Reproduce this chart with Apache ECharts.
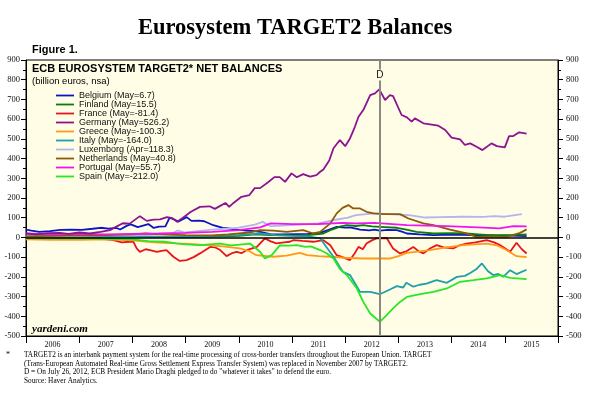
<!DOCTYPE html>
<html>
<head>
<meta charset="utf-8">
<script src="https://cdn.jsdelivr.net/npm/echarts/dist/echarts.min.js"></script>
<style>
  html, body { margin: 0; padding: 0; background: #fff; }
  #chart { width: 600px; height: 402px; }
</style>
</head>
<body>
<div id="chart"></div>
<script>
// year labels (centred between year ticks)
var years = ['2006', '2007', '2008', '2009', '2010', '2011', '2012', '2013', '2014', '2015'];

// series: [decimal year, billion euros]
var belgium = [[2006.0,40],[2006.1,35],[2006.25,28],[2006.45,32],[2006.65,38],[2006.85,40],[2007.05,38],[2007.25,44],[2007.4,49],[2007.55,45],[2007.7,48],[2007.77,40],[2007.9,60],[2007.97,66],[2008.1,52],[2008.2,60],[2008.3,68],[2008.4,48],[2008.5,55],[2008.62,56],[2008.7,100],[2008.78,92],[2008.86,80],[2008.95,92],[2009.02,103],[2009.11,84],[2009.25,85],[2009.35,82],[2009.52,62],[2009.7,48],[2009.85,44],[2009.96,40],[2010.15,34],[2010.3,32],[2010.4,28],[2010.59,17],[2010.8,15],[2011.09,17],[2011.3,18],[2011.53,23],[2011.7,40],[2011.84,54],[2012.0,50],[2012.09,51],[2012.2,45],[2012.28,40],[2012.45,36],[2012.55,40],[2012.65,34],[2012.8,38],[2012.97,37],[2013.08,28],[2013.16,20],[2013.4,15],[2013.66,12],[2014.0,14],[2014.41,12],[2014.8,10],[2015.1,9],[2015.41,6.7]];
var finland = [[2006.0,2],[2006.5,3],[2007.0,2],[2007.5,4],[2008.0,5],[2008.5,3],[2009.0,2],[2009.5,4],[2010.0,8],[2010.3,15],[2010.6,12],[2011.0,10],[2011.3,12],[2011.59,20],[2011.75,40],[2011.9,55],[2012.03,62],[2012.2,58],[2012.34,62],[2012.5,56],[2012.65,54],[2012.97,49],[2013.15,40],[2013.34,28],[2013.66,20],[2014.0,22],[2014.28,20],[2014.5,16],[2014.72,12],[2015.16,12],[2015.41,15.5]];
var france = [[2006.0,-3],[2006.5,-5],[2007.0,-4],[2007.4,-6],[2007.64,-14],[2007.8,-25],[2007.95,-22],[2008.02,-22],[2008.08,-56],[2008.14,-73],[2008.25,-60],[2008.33,-64],[2008.46,-73],[2008.55,-68],[2008.64,-64],[2008.77,-98],[2008.89,-119],[2009.02,-115],[2009.15,-100],[2009.27,-81],[2009.46,-48],[2009.55,-50],[2009.65,-64],[2009.77,-95],[2009.87,-80],[2009.96,-73],[2010.05,-80],[2010.15,-64],[2010.25,-55],[2010.34,-48],[2010.49,-5],[2010.6,-20],[2010.71,-30],[2010.85,-25],[2010.96,-22],[2011.02,-14],[2011.2,-18],[2011.4,-22],[2011.59,-14],[2011.72,-40],[2011.84,-90],[2011.95,-100],[2012.09,-115],[2012.18,-80],[2012.25,-48],[2012.33,-60],[2012.4,-31],[2012.5,-15],[2012.59,-5],[2012.78,-3],[2012.9,-56],[2013.03,-81],[2013.15,-70],[2013.28,-48],[2013.38,-70],[2013.47,-81],[2013.6,-55],[2013.72,-39],[2013.85,-50],[2014.03,-56],[2014.15,-40],[2014.28,-31],[2014.45,-25],[2014.66,-14],[2014.8,-25],[2014.91,-39],[2015.03,-60],[2015.1,-73],[2015.22,-27],[2015.32,-60],[2015.41,-81.4]];
var germany = [[2006.0,20],[2006.2,15],[2006.4,22],[2006.64,23],[2006.8,18],[2007.0,25],[2007.2,20],[2007.4,28],[2007.58,37],[2007.7,55],[2007.82,72],[2007.95,70],[2008.14,108],[2008.27,84],[2008.4,90],[2008.52,92],[2008.65,103],[2008.75,98],[2008.84,79],[2008.95,100],[2009.1,130],[2009.27,155],[2009.45,158],[2009.55,145],[2009.65,160],[2009.75,175],[2009.82,155],[2009.9,175],[2010.05,206],[2010.2,215],[2010.3,250],[2010.4,250],[2010.55,280],[2010.67,306],[2010.77,306],[2010.87,282],[2010.99,325],[2011.09,305],[2011.21,321],[2011.34,308],[2011.46,316],[2011.53,333],[2011.59,345],[2011.7,390],[2011.78,452],[2011.9,494],[2012.0,463],[2012.09,502],[2012.18,560],[2012.25,612],[2012.34,646],[2012.47,722],[2012.56,731],[2012.64,751],[2012.75,697],[2012.84,722],[2012.9,717],[2013.06,621],[2013.16,609],[2013.25,587],[2013.31,604],[2013.47,579],[2013.75,567],[2013.88,545],[2014.0,506],[2014.16,497],[2014.25,469],[2014.35,477],[2014.47,460],[2014.58,443],[2014.75,477],[2014.85,463],[2015.0,457],[2015.08,514],[2015.16,514],[2015.27,533],[2015.41,526.2]];
var greece = [[2006.0,-10],[2006.5,-12],[2007.0,-12],[2007.5,-10],[2008.0,-15],[2008.4,-25],[2008.8,-30],[2009.0,-32],[2009.4,-39],[2009.7,-45],[2010.02,-56],[2010.2,-70],[2010.33,-90],[2010.65,-98],[2010.9,-92],[2011.15,-78],[2011.28,-90],[2011.5,-95],[2011.71,-98],[2012.0,-103],[2012.33,-107],[2012.84,-107],[2013.0,-95],[2013.16,-78],[2013.59,-64],[2013.9,-50],[2014.22,-39],[2014.66,-31],[2014.85,-40],[2015.03,-64],[2015.22,-95],[2015.41,-100.3]];
var italy = [[2006.0,5],[2006.5,8],[2007.0,10],[2007.5,8],[2008.0,5],[2008.5,3],[2009.0,5],[2009.5,8],[2010.0,12],[2010.4,20],[2010.7,12],[2011.0,8],[2011.3,5],[2011.53,-5],[2011.65,-50],[2011.78,-98],[2011.9,-150],[2011.96,-175],[2012.09,-191],[2012.2,-240],[2012.28,-276],[2012.47,-276],[2012.65,-288],[2012.84,-264],[2012.97,-247],[2013.09,-254],[2013.15,-230],[2013.28,-250],[2013.4,-240],[2013.53,-234],[2013.62,-225],[2013.72,-217],[2013.91,-230],[2014.1,-200],[2014.25,-195],[2014.35,-180],[2014.47,-160],[2014.57,-132],[2014.68,-170],[2014.78,-191],[2014.88,-185],[2014.97,-200],[2015.1,-166],[2015.22,-186],[2015.41,-164]];
var luxembourg = [[2006.0,5],[2006.5,6],[2007.0,8],[2007.5,10],[2008.0,10],[2008.5,15],[2008.75,20],[2008.85,35],[2009.0,25],[2009.5,40],[2009.8,45],[2010.0,50],[2010.3,65],[2010.45,79],[2010.6,57],[2010.8,60],[2011.0,62],[2011.5,71],[2011.85,91],[2012.05,100],[2012.2,113],[2012.55,122],[2012.8,118],[2013.2,113],[2013.5,101],[2013.8,103],[2014.2,105],[2014.6,104],[2014.8,108],[2015.0,105],[2015.32,118.3]];
var netherlands = [[2006.0,5],[2006.5,8],[2007.0,10],[2007.5,12],[2008.0,15],[2008.25,20],[2008.5,15],[2009.0,12],[2009.5,10],[2009.8,15],[2010.0,20],[2010.2,25],[2010.4,37],[2010.65,34],[2010.9,28],[2011.21,37],[2011.4,20],[2011.53,28],[2011.72,71],[2011.84,122],[2011.95,150],[2012.06,164],[2012.15,147],[2012.18,139],[2012.28,147],[2012.4,130],[2012.53,122],[2012.72,118],[2013.03,118],[2013.19,96],[2013.47,71],[2013.66,62],[2013.97,40],[2014.28,20],[2014.47,3],[2014.7,5],[2015.03,3],[2015.29,23],[2015.41,40.8]];
var portugal = [[2006.0,20],[2006.5,15],[2007.0,18],[2007.5,15],[2008.0,18],[2008.5,20],[2009.0,23],[2009.5,28],[2010.0,37],[2010.4,51],[2010.6,71],[2011.0,67],[2011.5,68],[2011.96,74],[2012.2,71],[2012.55,74],[2013.16,62],[2013.9,57],[2014.5,51],[2014.9,46],[2015.16,57],[2015.41,55.7]];
var spain = [[2006.0,-3],[2006.5,-5],[2007.0,-4],[2007.5,-6],[2008.0,-10],[2008.3,-19],[2008.6,-22],[2008.83,-30],[2009.0,-35],[2009.27,-39],[2009.45,-35],[2009.65,-31],[2009.85,-40],[2010.02,-36],[2010.21,-31],[2010.4,-73],[2010.49,-107],[2010.62,-90],[2010.77,-40],[2010.95,-42],[2011.09,-39],[2011.25,-48],[2011.35,-45],[2011.53,-64],[2011.65,-80],[2011.78,-107],[2011.9,-160],[2012.03,-191],[2012.22,-259],[2012.34,-327],[2012.47,-386],[2012.65,-428],[2012.78,-394],[2012.9,-360],[2013.03,-327],[2013.16,-302],[2013.41,-288],[2013.66,-276],[2013.91,-259],[2014.16,-225],[2014.41,-217],[2014.66,-208],[2014.91,-191],[2015.1,-205],[2015.41,-212]];

var names = ['Belgium (May=6.7)', 'Finland (May=15.5)', 'France (May=-81.4)', 'Germany (May=526.2)',
  'Greece (May=-100.3)', 'Italy (May=-164.0)', 'Luxemborg (Apr=118.3)', 'Netherlands (May=40.8)',
  'Portugal (May=55.7)', 'Spain (May=-212.0)'];
var colors = ['#0a14c8', '#0a7a14', '#e8141e', '#8c1490', '#ff9a14', '#1ea0a8', '#b4b4f0', '#8c5a0a', '#f014f0', '#28e628'];
var allData = [belgium, finland, france, germany, greece, italy, luxembourg, netherlands, portugal, spain];

var dDate = 2012.65; // Draghi, July 26 2012
var plotBg = '#fffde6';

var serif = 'Liberation Serif';
var sans = 'Liberation Sans';

var chart = echarts.init(document.getElementById('chart'));

var series = allData.map(function (d, i) {
    return {
        name: names[i],
        type: 'line',
        data: d,
        symbol: 'none',
        xAxisIndex: 0,
        yAxisIndex: 0,
        z: (i === 3 ? 4 : 3),
        lineStyle: { color: colors[i], width: 1.8 },
        itemStyle: { color: colors[i] }
    };
});

// zero line, D marker
series.unshift({
    name: 'marks',
    type: 'line',
    data: [],
    xAxisIndex: 0,
    yAxisIndex: 0,
    z: 5,
    markLine: {
        silent: true,
        symbol: ['none', 'none'],
        label: { show: false },
        data: [
            { yAxis: 0, lineStyle: { color: '#000', width: 1.5, type: 'solid' } },
            { xAxis: dDate, lineStyle: { color: '#8a8a80', width: 2, type: 'solid' } }
        ]
    },
    markPoint: {
        silent: true,
        symbol: 'rect',
        symbolSize: [9, 11],
        itemStyle: { color: plotBg },
        label: { show: true, formatter: 'D', color: '#111', fontSize: 10, fontFamily: sans },
        data: [{ coord: [dDate, 824] }]
    }
});

var option = {
    backgroundColor: '#fff',
    animation: false,
    grid: {
        left: 26, right: 42, top: 60, bottom: 66,
        show: true, backgroundColor: plotBg, borderColor: '#000', borderWidth: 1
    },
    legend: {
        data: names,
        orient: 'vertical',
        left: 56, top: 91,
        itemWidth: 18, itemHeight: 10, itemGap: 0,
        padding: 0,
        icon: 'path://M0,0 L20,0 L20,2 L0,2 Z',
        symbolKeepAspect: true,
        textStyle: { fontFamily: sans, fontSize: 9, color: '#111' }
    },
    xAxis: [{
        type: 'value', min: 2006, max: 2016, show: false
    }, {
        type: 'category', data: years, boundaryGap: true, position: 'bottom',
        axisLine: { show: true, onZero: false, lineStyle: { color: '#000', width: 1 } },
        axisTick: { show: true, length: 7, lineStyle: { color: '#000' } },
        axisLabel: { fontFamily: serif, fontSize: 8, color: '#111', margin: 5 },
        splitLine: { show: false }
    }],
    yAxis: [{
        type: 'value', min: -500, max: 900, interval: 100, position: 'left',
        axisLine: { show: true, lineStyle: { color: '#000' } },
        axisTick: { show: true, length: 5, lineStyle: { color: '#000' } },
        minorTick: { show: true, splitNumber: 2, length: 3, lineStyle: { color: '#000' } },
        axisLabel: { fontFamily: serif, fontSize: 8.5, color: '#111', margin: 6 },
        splitLine: { show: false }
    }, {
        type: 'value', min: -500, max: 900, interval: 100, position: 'right',
        axisLine: { show: true, lineStyle: { color: '#000' } },
        axisTick: { show: true, length: 5, lineStyle: { color: '#000' } },
        minorTick: { show: true, splitNumber: 2, length: 3, lineStyle: { color: '#000' } },
        axisLabel: { fontFamily: serif, fontSize: 8.5, color: '#111', margin: 8 },
        splitLine: { show: false }
    }],
    graphic: [
        { type: 'text', left: 138, top: 17,
          style: { text: 'Eurosystem TARGET2 Balances', font: 'bold 22.5px "Liberation Serif"', fill: '#000' } },
        { type: 'text', left: 32, top: 44,
          style: { text: 'Figure 1.', font: 'bold 11px "Liberation Sans"', fill: '#000' } },
        { type: 'text', left: 32, top: 63, z: 10,
          style: { text: 'ECB EUROSYSTEM TARGET2* NET BALANCES', font: 'bold 11px "Liberation Sans"', fill: '#000' } },
        { type: 'text', left: 32, top: 76, z: 10,
          style: { text: '(billion euros, nsa)', font: '9.5px "Liberation Sans"', fill: '#000' } },
        { type: 'text', left: 32, top: 324, z: 10,
          style: { text: 'yardeni.com', font: 'italic bold 11px "Liberation Serif"', fill: '#000' } },
        { type: 'text', left: 6, top: 351,
          style: { text: '*', font: '8px "Liberation Serif"', fill: '#000' } },
        { type: 'text', left: 24, top: 351,
          style: {
              text: 'TARGET2 is an interbank payment system for the real-time processing of cross-border transfers throughout the European Union. TARGET\n' +
                    '(Trans-European Automated Real-time Gross Settlement Express Transfer System) was replaced in November 2007 by TARGET2.\n' +
                    'D = On July 26, 2012, ECB President Mario Draghi pledged to do "whatever it takes" to defend the euro.\n' +
                    'Source: Haver Analytics.',
              font: '7.3px "Liberation Serif"', lineHeight: 8.6, fill: '#000'
          } }
    ],
    series: series
};

chart.setOption(option);
</script>
</body>
</html>
